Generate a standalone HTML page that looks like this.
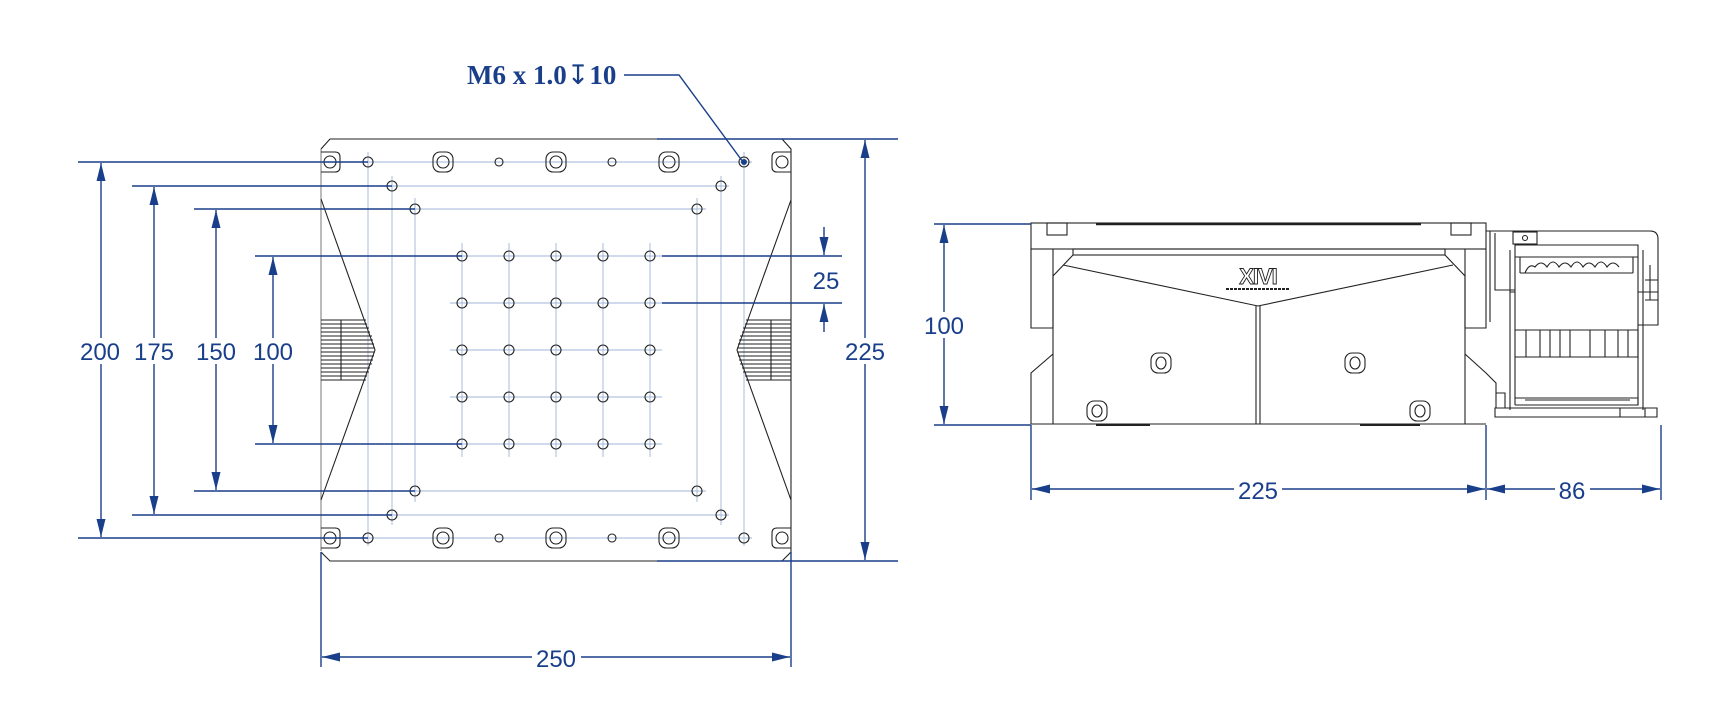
<!DOCTYPE html>
<html><head><meta charset="utf-8"><style>
html,body{margin:0;padding:0;background:#fff}
svg{display:block}
.d{stroke:#1a3f8a;stroke-width:1.4;fill:none}
.lb{stroke:#9fb4d8;stroke-width:0.9;fill:none}
.k{stroke:#222;stroke-width:1.1;fill:none}
.kg{stroke:#777;stroke-width:1;fill:none}
.t{font-family:"Liberation Sans",sans-serif;font-size:24px;fill:#1a3f8a}
</style></head><body>
<svg width="1732" height="727" viewBox="0 0 1732 727" xmlns="http://www.w3.org/2000/svg">
<defs>
<marker id="a" markerUnits="userSpaceOnUse" markerWidth="20" markerHeight="10" refX="18" refY="4.5" orient="auto-start-reverse"><path d="M0,0 L18,4.5 L0,9z" fill="#1a3f8a"/></marker>
<g id="cb"><rect x="-10" y="-10" width="20" height="20" rx="7" class="k"/><circle r="6" class="k"/></g>
<g id="bolt"><rect x="-10" y="-10" width="20" height="20" rx="7" class="k"/><ellipse rx="5" ry="6" class="k"/></g>
</defs>

<g class="lb">
<line x1="360" y1="162" x2="752" y2="162"/><line x1="360" y1="538" x2="752" y2="538"/>
<line x1="368" y1="152" x2="368" y2="546"/><line x1="744" y1="152" x2="744" y2="546"/>
<line x1="384" y1="186" x2="729" y2="186"/><line x1="384" y1="515" x2="729" y2="515"/>
<line x1="392" y1="176" x2="392" y2="525"/><line x1="721" y1="176" x2="721" y2="525"/>
<line x1="407" y1="209" x2="706" y2="209"/><line x1="407" y1="491" x2="706" y2="491"/>
<line x1="415" y1="198" x2="415" y2="502"/><line x1="697" y1="198" x2="697" y2="502"/>
<line x1="450" y1="256" x2="662" y2="256"/><line x1="450" y1="303" x2="662" y2="303"/><line x1="450" y1="350" x2="662" y2="350"/><line x1="450" y1="397" x2="662" y2="397"/><line x1="450" y1="444" x2="662" y2="444"/>
<line x1="462" y1="243" x2="462" y2="457"/><line x1="509" y1="243" x2="509" y2="457"/><line x1="556" y1="243" x2="556" y2="457"/><line x1="603" y1="243" x2="603" y2="457"/><line x1="650" y1="243" x2="650" y2="457"/>
</g>
<path class="kg" d="M321,149 L321,551"/>
<path class="k" d="M321,149 L330,139 L657,139 M657,561 L330,561 L321,552 M782,139 L791,149 L791,552 L782,561"/>
<path class="k" stroke-width="1.6" d="M321,199 L375,350 L321,500 M791,200 L737,350 L791,500"/>
<g class="k" stroke-width="0.8">
<path d="M321,320 H366 M321,324 H367 M321,328 H369 M321,332 H370 M321,336 H372 M321,340 H373 M321,344 H374 M321,348 H375 M321,352 H375 M321,356 H374 M321,360 H373 M321,364 H372 M321,368 H370 M321,372 H369 M321,376 H367 M321,380 H366 M341,320 V380"/>
<path d="M791,320 H746 M791,324 H745 M791,328 H743 M791,332 H742 M791,336 H740 M791,340 H739 M791,344 H738 M791,348 H737 M791,352 H737 M791,356 H738 M791,360 H739 M791,364 H740 M791,368 H742 M791,372 H743 M791,376 H745 M791,380 H746 M771,320 V380"/>
</g>
<path class="k" d="M321,152 H335 Q340,152 340,157 V167 Q340,172 335,172 H321 M321,528 H335 Q340,528 340,533 V543 Q340,548 335,548 H321 M791,152 H777 Q772,152 772,157 V167 Q772,172 777,172 H791 M791,528 H777 Q772,528 772,533 V543 Q772,548 777,548 H791"/>
<g class="k"><circle cx="330" cy="162" r="6"/><circle cx="330" cy="538" r="6"/><circle cx="782" cy="162" r="6"/><circle cx="782" cy="538" r="6"/></g>
<use href="#cb" x="443" y="162"/><use href="#cb" x="556" y="162"/><use href="#cb" x="669" y="162"/>
<use href="#cb" x="443" y="538"/><use href="#cb" x="556" y="538"/><use href="#cb" x="669" y="538"/>
<g class="k">
<circle cx="368" cy="162" r="5"/><circle cx="499" cy="162" r="4"/><circle cx="612" cy="162" r="4"/>
<circle cx="368" cy="538" r="5"/><circle cx="499" cy="538" r="4"/><circle cx="612" cy="538" r="4"/><circle cx="744" cy="538" r="5"/>
<circle cx="392" cy="186" r="5"/><circle cx="721" cy="186" r="5"/><circle cx="415" cy="209" r="5"/><circle cx="697" cy="209" r="5"/>
<circle cx="392" cy="515" r="5"/><circle cx="721" cy="515" r="5"/><circle cx="415" cy="491" r="5"/><circle cx="697" cy="491" r="5"/>
</g>
<g class="k">
<circle cx="462" cy="256" r="5"/><circle cx="509" cy="256" r="5"/><circle cx="556" cy="256" r="5"/><circle cx="603" cy="256" r="5"/><circle cx="650" cy="256" r="5"/>
<circle cx="462" cy="303" r="5"/><circle cx="509" cy="303" r="5"/><circle cx="556" cy="303" r="5"/><circle cx="603" cy="303" r="5"/><circle cx="650" cy="303" r="5"/>
<circle cx="462" cy="350" r="5"/><circle cx="509" cy="350" r="5"/><circle cx="556" cy="350" r="5"/><circle cx="603" cy="350" r="5"/><circle cx="650" cy="350" r="5"/>
<circle cx="462" cy="397" r="5"/><circle cx="509" cy="397" r="5"/><circle cx="556" cy="397" r="5"/><circle cx="603" cy="397" r="5"/><circle cx="650" cy="397" r="5"/>
<circle cx="462" cy="444" r="5"/><circle cx="509" cy="444" r="5"/><circle cx="556" cy="444" r="5"/><circle cx="603" cy="444" r="5"/><circle cx="650" cy="444" r="5"/>
</g>
<circle cx="744" cy="162" r="5" class="k"/><circle cx="744" cy="162" r="3" fill="#1a3f8a"/>

<g class="d">
<line x1="78" y1="162" x2="368" y2="162"/><line x1="78" y1="538" x2="368" y2="538"/>
<line x1="132" y1="186" x2="392" y2="186"/><line x1="132" y1="515" x2="392" y2="515"/>
<line x1="194" y1="209" x2="415" y2="209"/><line x1="194" y1="491" x2="415" y2="491"/>
<line x1="255" y1="256" x2="462" y2="256"/><line x1="255" y1="444" x2="462" y2="444"/>
<line x1="101" y1="338" x2="101" y2="163" marker-end="url(#a)"/><line x1="101" y1="364" x2="101" y2="537" marker-end="url(#a)"/>
<line x1="154" y1="338" x2="154" y2="187" marker-end="url(#a)"/><line x1="154" y1="364" x2="154" y2="514" marker-end="url(#a)"/>
<line x1="216" y1="338" x2="216" y2="210" marker-end="url(#a)"/><line x1="216" y1="364" x2="216" y2="490" marker-end="url(#a)"/>
<line x1="273" y1="338" x2="273" y2="257" marker-end="url(#a)"/><line x1="273" y1="364" x2="273" y2="443" marker-end="url(#a)"/>
<line x1="657" y1="139" x2="898" y2="139"/><line x1="657" y1="561" x2="898" y2="561"/>
<line x1="865" y1="338" x2="865" y2="140" marker-end="url(#a)"/><line x1="865" y1="364" x2="865" y2="560" marker-end="url(#a)"/>
<line x1="662" y1="256" x2="842" y2="256"/><line x1="662" y1="303" x2="842" y2="303"/>
<line x1="824" y1="227" x2="824" y2="255" marker-end="url(#a)"/><line x1="824" y1="332" x2="824" y2="304" marker-end="url(#a)"/>
<line x1="321" y1="552" x2="321" y2="667"/><line x1="791" y1="552" x2="791" y2="667"/>
<line x1="532" y1="657" x2="322" y2="657" marker-end="url(#a)"/><line x1="581" y1="657" x2="790" y2="657" marker-end="url(#a)"/>
<path d="M624,75 H679 L743,162"/>
</g>
<g class="t" text-anchor="middle">
<text x="100" y="360">200</text><text x="154" y="360">175</text><text x="216" y="360">150</text><text x="273" y="360">100</text>
<text x="865" y="360">225</text><text x="826" y="289">25</text><text x="556" y="667">250</text>
</g>
<text x="467" y="84" style="font-family:'Liberation Serif','DejaVu Serif',serif;font-weight:bold;font-size:27px;fill:#1a3f8a">M6 x 1.0<tspan style="font-family:'DejaVu Sans',sans-serif;font-weight:normal">↧</tspan>10</text>

<g class="k">
<rect x="1031" y="223" width="455" height="26"/>
<line x1="1096" y1="224" x2="1421" y2="224" stroke-width="2.5"/>
<rect x="1047" y="223" width="20" height="12"/><rect x="1451" y="223" width="20" height="12"/>
<path d="M1031,249 V328 H1053 M1053,249 V328 M1486,249 V328 H1465 M1465,249 V328"/>
<rect x="1073" y="249" width="372" height="6"/>
<path d="M1073,255 L1053,276 V424 M1445,255 L1465,276 V424"/>
<path d="M1063,265 L1258,306 L1453,265"/>
<path d="M1256,306 V424 M1260,306 V424"/>
<path d="M1053,354 L1031,373 V424 M1465,354 L1486,373 L1496,383 V408"/>
<path d="M1031,424 H1486"/>
<path d="M1096,425 H1150 M1360,425 H1420" stroke-width="2"/>
</g>
<use href="#bolt" x="1161" y="363"/><use href="#bolt" x="1355" y="363"/>
<use href="#bolt" x="1097" y="411"/><use href="#bolt" x="1420" y="411"/>
<text x="1258" y="284" text-anchor="middle" style="font-family:'Liberation Sans',sans-serif;font-size:22px;font-weight:bold;fill:#fff;stroke:#222;stroke-width:0.9;letter-spacing:-1px">XIVI</text>
<line x1="1226" y1="289" x2="1290" y2="289" stroke="#222" stroke-width="2" stroke-dasharray="3,1"/>
<g class="k" stroke-width="1">
<path d="M1486,231 H1650 Q1658,231 1658,239 V325 H1638 M1490,231 V322 M1495,233 V290 H1515"/>
<rect x="1513" y="232" width="24" height="12"/><circle cx="1525" cy="238" r="2.5"/>
<path d="M1515,245 H1638 V257 H1515 Z M1510,250 V410 M1515,245 V405 M1638,245 V405 M1643,250 V410"/>
<path d="M1520,257 V273 M1633,257 V273 M1520,273 H1633 M1525,273 q4,-10 10,-6 q6,-8 12,0 q6,-10 12,0 q6,-8 12,0 q6,-10 12,0 q6,-8 12,0 q6,-10 12,0 q6,-8 12,0"/>
<path d="M1510,292 H1515 M1638,292 H1658 M1645,280 H1658 M1645,300 H1658 M1650,265 V300"/>
<path d="M1515,330 H1638 V357 H1515 M1526,330 V357 M1540,330 V357 M1550,330 V357 M1560,330 V357 M1570,330 V357 M1590,330 V357 M1605,330 V357 M1618,330 V357 M1628,330 V357"/>
<path d="M1515,398 H1638 V405 H1515 M1525,400 H1630"/>
<path d="M1496,393 H1505 V408 M1495,408 H1657 V417 H1495 Z M1620,408 V417 M1645,408 V417"/>
</g>
<g class="d">
<line x1="934" y1="224" x2="1031" y2="224"/><line x1="934" y1="425" x2="1031" y2="425"/>
<line x1="944" y1="312" x2="944" y2="225" marker-end="url(#a)"/><line x1="944" y1="338" x2="944" y2="424" marker-end="url(#a)"/>
<line x1="1031" y1="425" x2="1031" y2="500"/><line x1="1486" y1="425" x2="1486" y2="500"/><line x1="1661" y1="425" x2="1661" y2="500"/>
<line x1="1234" y1="489" x2="1032" y2="489" marker-end="url(#a)"/><line x1="1282" y1="489" x2="1485" y2="489" marker-end="url(#a)"/>
<line x1="1555" y1="489" x2="1487" y2="489" marker-end="url(#a)"/><line x1="1590" y1="489" x2="1660" y2="489" marker-end="url(#a)"/>
</g>
<g class="t" text-anchor="middle">
<text x="944" y="334">100</text><text x="1258" y="499">225</text><text x="1572" y="499">86</text>
</g>
</svg>
</body></html>
